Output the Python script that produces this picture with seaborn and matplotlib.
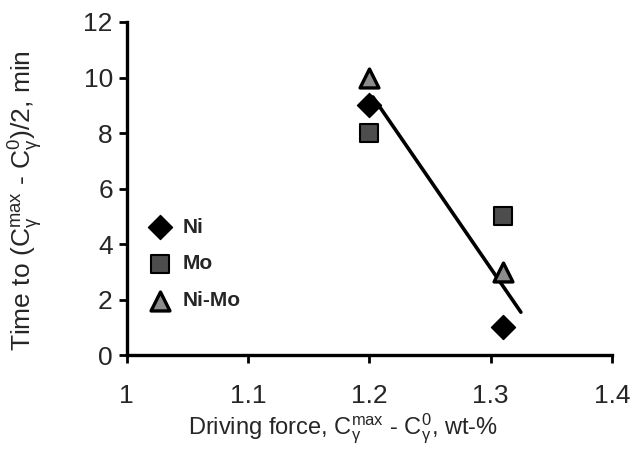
import matplotlib
matplotlib.use("Agg")
import matplotlib.pyplot as plt
import seaborn as sns

# ---- data ----
x_ni = [1.20, 1.31]
y_ni = [9.0, 1.0]
x_mo = [1.20, 1.31]
y_mo = [8.0, 5.0]
x_nimo = [1.20, 1.31]
y_nimo = [10.0, 3.0]
trend_x = [1.203, 1.325]
trend_y = [9.3, 1.55]
xticks = [1.0, 1.1, 1.2, 1.3, 1.4]
xtick_labels = ["1", "1.1", "1.2", "1.3", "1.4"]
yticks = [0, 2, 4, 6, 8, 10, 12]

sns.set_style("white")
plt.rcParams["font.family"] = ["Liberation Sans", "DejaVu Sans"]
plt.rcParams["mathtext.fontset"] = "custom"
plt.rcParams["mathtext.rm"] = "Liberation Sans"
plt.rcParams["mathtext.it"] = "Liberation Sans"
plt.rcParams["mathtext.bf"] = "Liberation Sans:bold"

fig = plt.figure(figsize=(6.4, 4.68), dpi=100)
ax = fig.add_axes([0.198, 0.241, 0.758, 0.712])

sns.lineplot(x=trend_x, y=trend_y, ax=ax, color="black", linewidth=2.6, legend=False)

sns.scatterplot(x=x_ni, y=y_ni, ax=ax, marker="D", s=150, color="black",
                edgecolor="black", linewidth=1, label="Ni", zorder=3)
sns.scatterplot(x=x_mo, y=y_mo, ax=ax, marker="s", s=150, color="#4d4d4d",
                edgecolor="black", linewidth=1.5, label="Mo", zorder=3)
sns.scatterplot(x=x_nimo, y=y_nimo, ax=ax, marker="^", s=185, color="#8c8c8c",
                edgecolor="black", linewidth=2.4, label="Ni-Mo", zorder=3)

ax.set_xlim(1.0, 1.4)
ax.set_ylim(0, 12)
ax.set_xticks(xticks)
ax.set_xticklabels(xtick_labels)
ax.set_yticks(yticks)

for side in ["top", "right"]:
    ax.spines[side].set_visible(False)
for side in ["left", "bottom"]:
    ax.spines[side].set_linewidth(2.4)
    ax.spines[side].set_color("black")

ax.tick_params(axis="both", which="major", direction="out", length=6, width=2,
               color="black", labelsize=19, left=True, bottom=True)
ax.tick_params(axis="x", pad=15)
ax.tick_params(axis="y", pad=4)

ax.set_xlabel(r"Driving force, $\mathregular{C_\gamma^{max}}$ - $\mathregular{C_\gamma^{0}}$, wt-%",
              fontsize=17)
ax.set_ylabel(r"Time to ($\mathregular{C_\gamma^{max}}$ - $\mathregular{C_\gamma^{0}}$)/2, min",
              fontsize=19)
ax.xaxis.set_label_coords(0.445, -0.17)
ax.yaxis.set_label_coords(-0.169, 0.465)

leg = ax.legend(loc="upper left", bbox_to_anchor=(0.0, 0.45), frameon=False,
                labelspacing=0.85, handletextpad=0.1, borderaxespad=0.2,
                prop={"weight": "bold", "size": 15}, markerscale=1.0)

fig.savefig("out.png", dpi=100)
